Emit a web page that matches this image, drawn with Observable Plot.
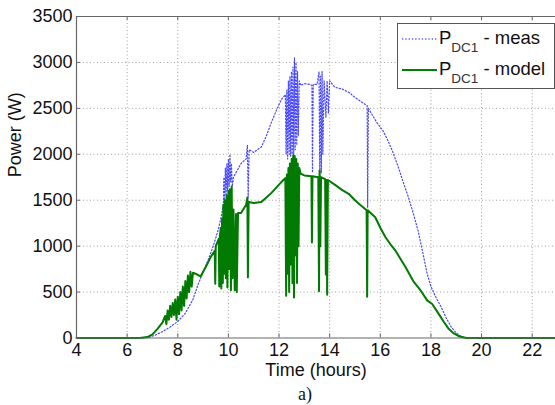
<!DOCTYPE html>
<html>
<head>
<meta charset="utf-8">
<script src="https://cdn.jsdelivr.net/npm/d3@7"></script>
<script src="https://cdn.jsdelivr.net/npm/@observablehq/plot@0.6"></script>
<style>
  html, body { margin: 0; padding: 0; background: #fff; }
  #wrap { position: relative; width: 555px; height: 405px; overflow: hidden; }
  #legend { position: absolute; left: 397px; top: 23px; }
  #caption { position: absolute; left: 0; width: 610px; top: 384px; line-height: 20px; text-align: center;
             font-family: "Liberation Serif", "Times New Roman", serif; font-size: 18px; color: #111; }
</style>
</head>
<body>
<div id="wrap">
  <div id="chart"></div>
  <svg id="legend" width="158" height="66" font-family="Liberation Sans, Arial, sans-serif" fill="#111">
    <rect x="0.5" y="0.5" width="157" height="65" fill="#fff" stroke="#555" stroke-width="1"></rect>
    <line x1="5" x2="40" y1="16" y2="16" stroke="#3333ff" stroke-width="1.3" stroke-dasharray="1.3,2" stroke-opacity="0.8"></line>
    <text x="42" y="21" font-size="18.5">P<tspan font-size="13.5" dy="8" fill="#333">DC1</tspan><tspan font-size="18.5" dy="-8"> - meas</tspan></text>
    <line x1="5" x2="40" y1="47" y2="47" stroke="#008000" stroke-width="2"></line>
    <text x="42" y="52" font-size="18.5">P<tspan font-size="13.5" dy="8" fill="#333">DC1</tspan><tspan font-size="18.5" dy="-8"> - model</tspan></text>
  </svg>
  <div id="caption">a)</div>
</div>
<script>
// tick labels
const hourTicks = [4, 6, 8, 10, 12, 14, 16, 18, 20, 22];
const powerTicks = [0, 500, 1000, 1500, 2000, 2500, 3000, 3500];
const xTitle = ["Time (hours)"];
const yTitle = ["Power (W)"];

// P_DC1 - meas
const measT = [4.0, 6.6, 6.9, 7.1, 7.4, 7.7, 8.0, 8.3, 8.6, 8.8, 9.0, 9.2, 9.4, 9.6, 9.7, 9.8,
  9.82, 9.85, 9.88, 9.91, 9.94, 9.97, 10.0, 10.03, 10.06, 10.09, 10.12, 10.15, 10.2,
  10.3, 10.5, 10.7, 10.75, 10.78, 10.82, 11.0, 11.3, 11.5, 11.7, 11.9, 12.1, 12.25,
  12.28, 12.31, 12.34, 12.37, 12.40, 12.43, 12.46, 12.49, 12.52, 12.55, 12.58, 12.61, 12.64, 12.67, 12.70, 12.73, 12.76, 12.80, 12.85,
  13.0, 13.2, 13.3, 13.32, 13.35, 13.5, 13.58, 13.61, 13.64, 13.67, 13.70, 13.73, 13.78, 13.85, 13.9, 13.95, 14.0,
  14.2, 14.5, 14.75, 15.0, 15.2, 15.48, 15.5, 15.53, 15.7, 15.9, 16.1, 16.3, 16.5, 16.7, 16.9,
  17.1, 17.3, 17.5, 17.7, 17.85, 18.0, 18.2, 18.4, 18.6, 18.8, 19.0, 19.2, 19.4, 23.0];
const measP = [0, 0, 10, 30, 70, 120, 180, 270, 420, 580, 720, 850, 1000, 1180, 1300, 1450,
  1750, 1500, 1850, 1550, 1900, 1600, 1950, 1650, 2000, 1700, 1900, 1650, 1750,
  1800, 1900, 1950, 2100, 1530, 2050, 2020, 2080, 2200, 2350, 2480, 2600, 2650,
  2000, 2700, 1950, 2800, 2000, 2850, 1980, 2900, 2000, 2950, 1990, 3050, 2050, 3000, 2100, 2900, 2200, 2800, 2750,
  2770, 2760, 2750, 1800, 2760, 2760, 2900, 1750, 2850, 1800, 2900, 2000, 2800, 2400, 2800, 2450, 2800,
  2730, 2710, 2675, 2620, 2580, 2530, 1420, 2500, 2420, 2330, 2260, 2150, 2020, 1870, 1700,
  1540, 1360, 1160, 900, 700, 560, 440, 340, 220, 120, 55, 15, 0, 0];

// P_DC1 - model
const modelT = [4.0, 6.5, 6.8, 7.0, 7.2, 7.4,
  7.5, 7.55, 7.6, 7.65, 7.7, 7.75, 7.8, 7.85, 7.9, 7.95, 8.0, 8.05, 8.1, 8.15, 8.2, 8.25, 8.3, 8.35, 8.4, 8.45, 8.5, 8.55, 8.6, 8.7,
  8.9, 9.1, 9.3, 9.46, 9.48, 9.5, 9.62, 9.64, 9.66, 9.7, 9.72, 9.75, 9.78, 9.8, 9.83, 9.86, 9.9, 9.93, 9.96,
  10.0, 10.03, 10.06, 10.1, 10.13, 10.16, 10.2, 10.25, 10.3, 10.33, 10.38,
  10.5, 10.7, 10.75, 10.77, 10.8, 11.0, 11.3, 11.5, 11.7, 11.9, 12.1,
  12.25, 12.28, 12.31, 12.34, 12.37, 12.4, 12.43, 12.46, 12.5, 12.53, 12.56, 12.59, 12.62, 12.65, 12.68, 12.71, 12.74, 12.77, 12.8, 12.85,
  13.0, 13.28, 13.3, 13.32, 13.55, 13.58, 13.6, 13.63, 13.66, 13.82, 13.85, 13.88, 13.9, 13.93,
  14.2, 14.5, 14.75, 15.0, 15.2, 15.46, 15.48, 15.5, 15.8, 16.0, 16.2, 16.4, 16.6, 16.8, 17.0,
  17.3, 17.6, 17.85, 18.05, 18.3, 18.5, 18.7, 18.9, 19.1, 19.4, 23.0];
const modelP = [0, 0, 10, 40, 100, 170,
  240, 150, 300, 200, 350, 230, 380, 250, 420, 200, 450, 260, 500, 300, 560, 350, 620, 430, 680, 500, 720, 560, 710, 700,
  670, 770, 880, 950, 590, 1000, 1080, 560, 1100, 1200, 540, 1300, 600, 1450, 700, 1500, 650, 1550, 550,
  1600, 750, 1620, 520, 1650, 650, 1400, 520, 1350, 500, 1360,
  1360, 1450, 1530, 660, 1480, 1470, 1480, 1530, 1580, 1640, 1700,
  1740, 460, 1780, 700, 1850, 500, 1900, 800, 1950, 600, 1990, 440, 1980, 900, 1950, 600, 1900, 1000, 1850, 1790,
  1770, 1760, 1040, 1760, 1750, 510, 1820, 1000, 1750, 1730, 690, 1720, 470, 1720,
  1670, 1610, 1570, 1500, 1450, 1390, 450, 1390, 1315, 1200, 1100, 1020, 950, 860, 770,
  620, 515, 410, 370, 265, 180, 100, 50, 20, 0, 0];

const meas = measT.map((t, i) => ({t, p: measP[i]}));
const model = modelT.map((t, i) => ({t, p: modelP[i]}));

const gridStyle = {stroke: "#a0a0a0", strokeDasharray: "1,2.5", strokeWidth: 1};
const axisColor = "#666";

const chart = Plot.plot({
  width: 555,
  height: 388,
  marginLeft: 76,
  marginRight: 0,
  marginTop: 16,
  marginBottom: 50.5,
  style: {fontFamily: "Liberation Sans, Arial, sans-serif", fontSize: "18px", color: "#111", background: "#fff"},
  x: {domain: [4, 22.92], ticks: hourTicks, tickFormat: d => String(d), label: null, tickSize: 0, tickPadding: 5},
  y: {domain: [0, 3500], ticks: powerTicks, tickFormat: d => String(d), label: null, tickSize: 0, tickPadding: 4},
  marks: [
    Plot.ruleX(hourTicks.slice(1), {...gridStyle}),
    Plot.ruleY(powerTicks.slice(1, -1), {...gridStyle}),
    Plot.line(meas, {x: "t", y: "p", stroke: "#1a1aff", strokeWidth: 1.2, strokeDasharray: "1.3,2", strokeOpacity: 0.8}),
    Plot.line(model, {x: "t", y: "p", stroke: "#007a00", strokeWidth: 2}),
    Plot.ruleY([0], {stroke: axisColor, strokeWidth: 1.2}),
    Plot.ruleY([3500], {stroke: axisColor, strokeWidth: 1}),
    Plot.ruleX([4], {stroke: axisColor, strokeWidth: 1.2}),
    Plot.ruleX(hourTicks, {y1: 0, y2: 0, insetTop: -4, stroke: axisColor}),
    Plot.ruleX(hourTicks, {y1: 3500, y2: 3500, insetBottom: -4, stroke: axisColor}),
    Plot.ruleY(powerTicks, {x1: 4, x2: 4, insetRight: -4, stroke: axisColor}),
    Plot.text(xTitle, {frameAnchor: "bottom", dy: 38, fontSize: 18, fill: "#111"}),
    Plot.text(yTitle, {frameAnchor: "left", dx: -61, rotate: -90, fontSize: 18, fill: "#111"})
  ]
});
document.getElementById("chart").appendChild(chart);
</script>
</body>
</html>
